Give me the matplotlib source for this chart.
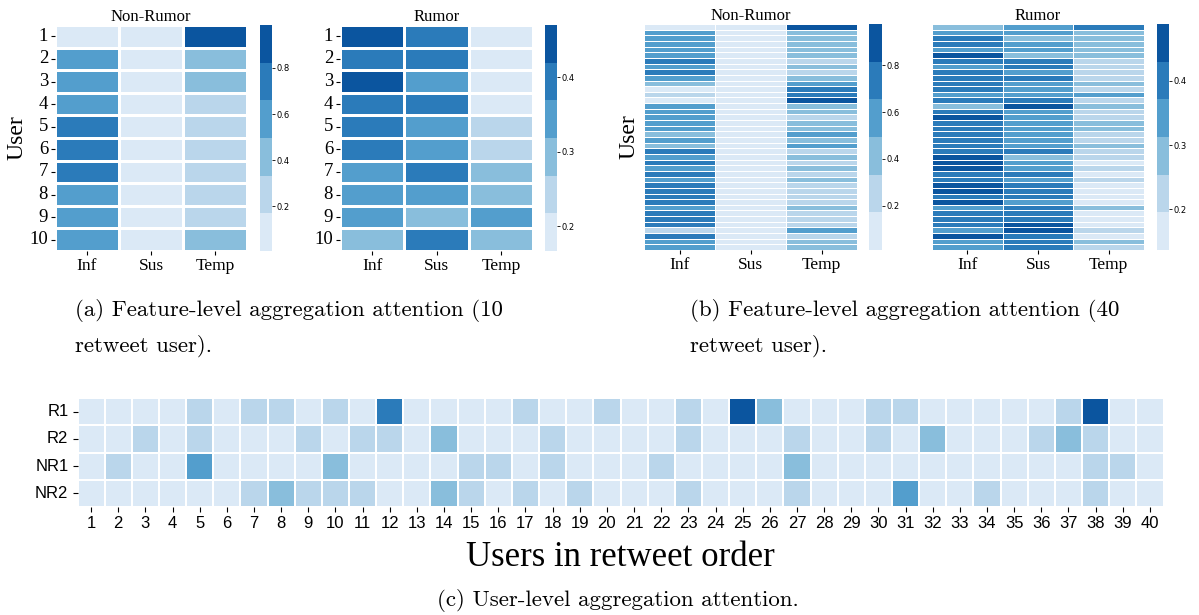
import numpy as np
import pandas as pd
import matplotlib
matplotlib.use("Agg")
import matplotlib.pyplot as plt
import seaborn as sns

# feature-level attention, 10 retweet users (Inf, Sus, Temp)
features = ["Inf", "Sus", "Temp"]
users_10 = ["1", "2", "3", "4", "5", "6", "7", "8", "9", "10"]

nonrumor_10 = [
    [0.006, 0.008, 0.986],
    [0.55, 0.04, 0.41],
    [0.56, 0.04, 0.40],
    [0.64, 0.06, 0.30],
    [0.70, 0.05, 0.25],
    [0.69, 0.06, 0.25],
    [0.71, 0.05, 0.24],
    [0.63, 0.06, 0.31],
    [0.64, 0.05, 0.31],
    [0.56, 0.04, 0.40],
]
rumor_10 = [
    [0.44, 0.39, 0.167],
    [0.40, 0.40, 0.20],
    [0.47, 0.35, 0.18],
    [0.40, 0.41, 0.19],
    [0.39, 0.35, 0.26],
    [0.40, 0.34, 0.26],
    [0.33, 0.39, 0.28],
    [0.36, 0.35, 0.29],
    [0.34, 0.30, 0.36],
    [0.30, 0.40, 0.30],
]

# feature-level attention, 40 retweet users
nonrumor_40 = [
    [0.011, 0.013, 0.976], [0.55, 0.04, 0.41], [0.56, 0.04, 0.40], [0.57, 0.05, 0.38],
    [0.55, 0.05, 0.40], [0.58, 0.04, 0.38], [0.70, 0.04, 0.26], [0.57, 0.05, 0.38],
    [0.68, 0.05, 0.27], [0.56, 0.05, 0.39], [0.40, 0.05, 0.55], [0.15, 0.07, 0.78],
    [0.22, 0.06, 0.72], [0.09, 0.04, 0.87], [0.57, 0.05, 0.38], [0.56, 0.05, 0.39],
    [0.62, 0.06, 0.32], [0.55, 0.06, 0.39], [0.54, 0.06, 0.40], [0.42, 0.06, 0.52],
    [0.56, 0.05, 0.39], [0.41, 0.06, 0.53], [0.70, 0.05, 0.25], [0.56, 0.06, 0.38],
    [0.69, 0.06, 0.25], [0.58, 0.05, 0.37], [0.68, 0.06, 0.26], [0.57, 0.05, 0.38],
    [0.70, 0.05, 0.25], [0.71, 0.05, 0.24], [0.69, 0.06, 0.25], [0.70, 0.06, 0.24],
    [0.56, 0.05, 0.39], [0.71, 0.05, 0.24], [0.70, 0.06, 0.24], [0.69, 0.06, 0.25],
    [0.30, 0.07, 0.63], [0.72, 0.05, 0.23], [0.57, 0.05, 0.38], [0.58, 0.05, 0.37],
]
rumor_40 = [
    [0.28, 0.34, 0.38], [0.36, 0.35, 0.29], [0.42, 0.30, 0.28], [0.39, 0.33, 0.28],
    [0.36, 0.36, 0.28], [0.45, 0.29, 0.26], [0.40, 0.38, 0.22], [0.36, 0.40, 0.24],
    [0.41, 0.35, 0.24], [0.40, 0.39, 0.21], [0.40, 0.34, 0.26], [0.41, 0.35, 0.24],
    [0.34, 0.33, 0.33], [0.40, 0.39, 0.21], [0.27, 0.46, 0.27], [0.41, 0.36, 0.23],
    [0.44, 0.34, 0.22], [0.39, 0.34, 0.27], [0.38, 0.35, 0.27], [0.41, 0.35, 0.24],
    [0.41, 0.36, 0.23], [0.39, 0.33, 0.28], [0.39, 0.39, 0.22], [0.46, 0.31, 0.23],
    [0.47, 0.35, 0.18], [0.44, 0.36, 0.20], [0.42, 0.40, 0.18], [0.41, 0.36, 0.23],
    [0.44, 0.39, 0.17], [0.489, 0.375, 0.136], [0.42, 0.40, 0.18], [0.47, 0.36, 0.17],
    [0.34, 0.38, 0.28], [0.41, 0.41, 0.18], [0.42, 0.40, 0.18], [0.39, 0.45, 0.16],
    [0.33, 0.45, 0.22], [0.46, 0.40, 0.14], [0.34, 0.39, 0.27], [0.36, 0.41, 0.23],
]

# user-level attention over 40 users in retweet order
users_40 = [str(i) for i in range(1, 41)]
cascades = ["R1", "R2", "NR1", "NR2"]
att_r1 = [0.018, 0.016, 0.020, 0.017, 0.038, 0.019, 0.041, 0.036, 0.021, 0.039,
          0.022, 0.097, 0.018, 0.020, 0.017, 0.023, 0.040, 0.021, 0.019, 0.037,
          0.020, 0.018, 0.035, 0.022, 0.125, 0.058, 0.019, 0.021, 0.017, 0.038,
          0.042, 0.020, 0.018, 0.016, 0.019, 0.021, 0.039, 0.121, 0.020, 0.017]
att_r2 = [0.021, 0.019, 0.037, 0.022, 0.040, 0.018, 0.020, 0.023, 0.036, 0.021,
          0.039, 0.043, 0.019, 0.059, 0.022, 0.018, 0.024, 0.041, 0.020, 0.022,
          0.019, 0.021, 0.038, 0.023, 0.020, 0.018, 0.040, 0.021, 0.019, 0.037,
          0.022, 0.061, 0.020, 0.023, 0.018, 0.039, 0.057, 0.042, 0.021, 0.019]
att_nr1 = [0.020, 0.039, 0.022, 0.019, 0.078, 0.021, 0.018, 0.023, 0.020, 0.062,
           0.021, 0.019, 0.022, 0.020, 0.036, 0.041, 0.018, 0.038, 0.021, 0.019,
           0.023, 0.037, 0.020, 0.018, 0.022, 0.019, 0.060, 0.021, 0.023, 0.020,
           0.018, 0.022, 0.019, 0.021, 0.020, 0.018, 0.023, 0.040, 0.037, 0.021]
att_nr2 = [0.019, 0.022, 0.020, 0.021, 0.023, 0.018, 0.041, 0.058, 0.038, 0.040,
           0.036, 0.022, 0.019, 0.061, 0.039, 0.021, 0.037, 0.020, 0.042, 0.018,
           0.022, 0.020, 0.038, 0.019, 0.021, 0.023, 0.036, 0.020, 0.018, 0.022,
           0.079, 0.019, 0.021, 0.040, 0.018, 0.022, 0.020, 0.039, 0.021, 0.019]

W, H = 1199, 615
blues = sns.color_palette("Blues", 6)


def box(x0, y0, x1, y1):
    # pixel box (top-left origin) -> figure fraction rect
    return [x0 / W, 1 - y1 / H, (x1 - x0) / W, (y1 - y0) / H]


def feature_map(fig, data, rect, cbar_rect, title, cticks, ylabels, lw):
    ax = fig.add_axes(box(*rect))
    cax = fig.add_axes(box(*cbar_rect))
    df = pd.DataFrame(data, columns=features)
    sns.heatmap(df, ax=ax, cbar_ax=cax, cmap=blues, linewidths=lw,
                linecolor="white", xticklabels=features,
                yticklabels=ylabels if ylabels else False)
    ax.set_title(title, fontsize=12, pad=3, family="Liberation Serif")
    ax.tick_params(axis="x", labelsize=12.5, length=3, width=0.8, pad=2)
    ax.tick_params(axis="y", labelsize=13.5, length=3, width=0.8, pad=2)
    for lab in ax.get_xticklabels() + ax.get_yticklabels():
        lab.set_family("Liberation Serif")
    plt.setp(ax.get_yticklabels(), rotation=0)
    cax.set_yticks(cticks)
    cax.set_yticklabels([f"{t:.1f}" for t in cticks])
    cax.tick_params(labelsize=6, length=2, width=0.6, pad=1.5)
    return ax


fig = plt.figure(figsize=(W / 100, H / 100), dpi=100)

# (a) 10 retweet users
ax = feature_map(fig, nonrumor_10, (55, 25, 247, 251), (260, 25, 272, 251),
                 "Non-Rumor", [0.2, 0.4, 0.6, 0.8], users_10, 0.8)
ax.set_ylabel("User", fontsize=17, family="Liberation Serif", va="center")
ax.yaxis.set_label_coords(-0.2, 0.5)
feature_map(fig, rumor_10, (340, 25, 533, 251), (545, 25, 557, 251),
            "Rumor", [0.2, 0.3, 0.4], users_10, 0.8)

# (b) 40 retweet users
ax = feature_map(fig, nonrumor_40, (644, 24, 857, 250), (869, 24, 882, 250),
                 "Non-Rumor", [0.2, 0.4, 0.6, 0.8], None, 0.6)
ax.set_ylabel("User", fontsize=17, family="Liberation Serif", va="center")
ax.yaxis.set_label_coords(-0.07, 0.5)
feature_map(fig, rumor_40, (932, 24, 1144, 250), (1157, 24, 1169, 250),
            "Rumor", [0.2, 0.3, 0.4], None, 0.6)

cap = dict(fontsize=16.5, family="cmr10")
fig.text(75 / W, 1 - 316 / H, "(a) Feature-level aggregation attention (10", **cap)
fig.text(75 / W, 1 - 352 / H, "retweet user).", **cap)
fig.text(690 / W, 1 - 316 / H, "(b) Feature-level aggregation attention (40", **cap)
fig.text(690 / W, 1 - 352 / H, "retweet user).", **cap)

# (c) user-level attention
axc = fig.add_axes(box(77.5, 398, 1163.5, 507))
user_df = pd.DataFrame([att_r1, att_r2, att_nr1, att_nr2], index=cascades, columns=users_40)
sns.heatmap(user_df, ax=axc, cmap=blues, cbar=False, linewidths=1.2,
            linecolor="white", xticklabels=users_40, yticklabels=cascades)
axc.tick_params(labelsize=12, length=3.5, width=0.8, pad=3)
for lab in axc.get_xticklabels() + axc.get_yticklabels():
    lab.set_family("Liberation Sans")
plt.setp(axc.get_xticklabels(), rotation=0)
plt.setp(axc.get_yticklabels(), rotation=0)
axc.set_xlabel("Users in retweet order", fontsize=25, family="Liberation Serif", labelpad=7)

fig.text(618 / W, 1 - 606 / H, "(c) User-level aggregation attention.", ha="center", **cap)

fig.savefig("out.png", dpi=100)
